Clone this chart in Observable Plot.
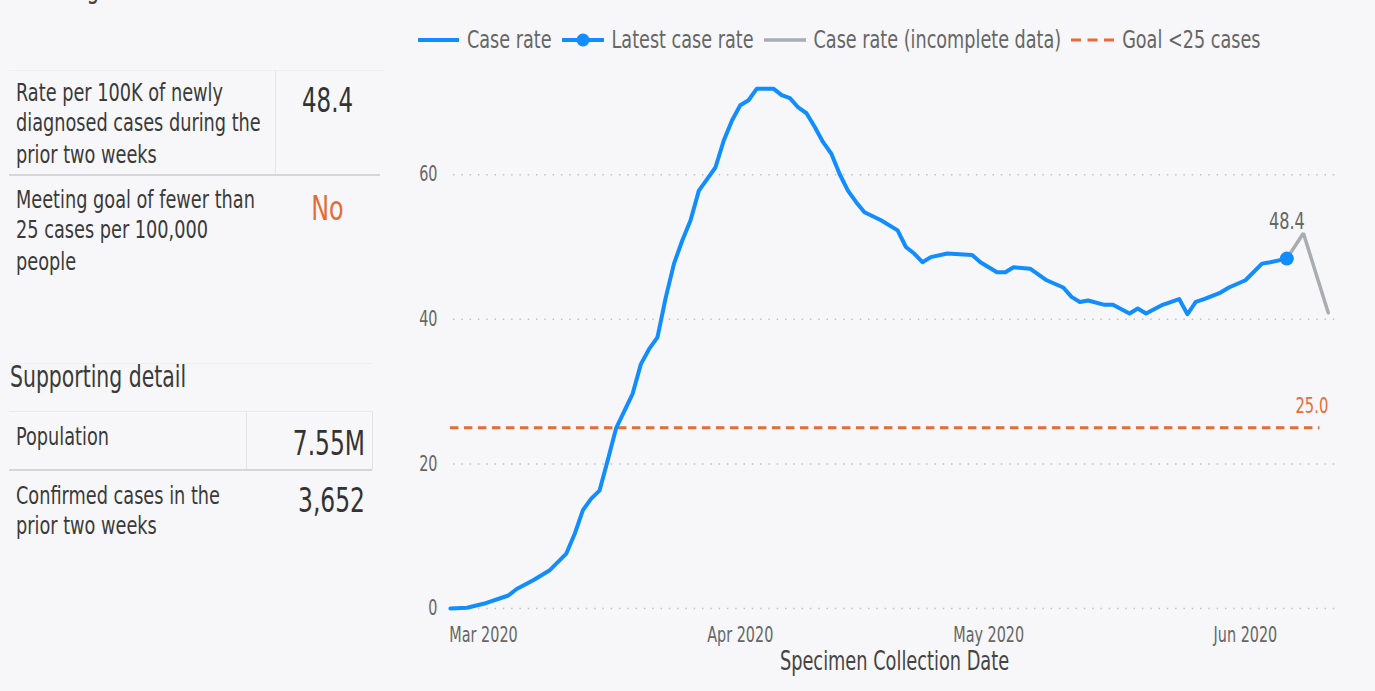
<!DOCTYPE html>
<html>
<head>
<meta charset="utf-8">
<script src="https://cdn.jsdelivr.net/npm/d3@7"></script>
<script src="https://cdn.jsdelivr.net/npm/@observablehq/plot@0.6"></script>
<style>
  html, body { margin: 0; padding: 0; background: #f7f7f9; overflow: hidden; }
  #root { position: relative; width: 1375px; height: 691px; background: #f7f7f9;
          font-family: "DejaVu Sans Condensed", "DejaVu Sans", sans-serif; }
  .abs { position: absolute; white-space: nowrap; transform: scaleY(1.3); transform-origin: 0 0; }
  .lbl { font-size: 19.7px; line-height: 23.46px; color: #3a3a3a; }
  .val { font-size: 26px; line-height: 30px; color: #333; }
  .line { position: absolute; }
  #legend { position: absolute; left: 418px; top: 28px; height: 24px; display: flex; align-items: center;
            font-size: 19.6px; line-height: 24px; color: #666; white-space: nowrap; }
  #legend svg { display: block; margin-right: 8px; }
  #legend span { display: inline-block; margin-right: 10px; transform: scaleY(1.3); transform-origin: 50% 50%; }
  #chart { position: absolute; left: 385px; top: 62px; }
</style>
</head>
<body>
<div id="root">
  <div class="abs" style="left:13px; top:-29px; font-size:22.7px; line-height:26px; color:#444;">Washington State</div>

  <div class="line" style="left:9px; top:70px; width:376px; height:1px; background:#efeff1;"></div>
  <div class="line" style="left:275px; top:70px; width:1px; height:105px; background:#e6e6e8;"></div>
  <div class="line" style="left:9px; top:174px; width:371px; height:2px; background:#d6d6d8;"></div>

  <div class="abs lbl" style="left:16px; top:78px;">Rate per 100K of newly<br>diagnosed cases during the<br>prior two weeks</div>
  <div class="abs val" style="left:275px; width:105px; text-align:center; top:80.5px; font-size:25.5px;">48.4</div>

  <div class="abs lbl" style="left:16px; top:185px;">Meeting goal of fewer than<br>25 cases per 100,000<br>people</div>
  <div class="abs val" style="left:275px; width:105px; text-align:center; top:188.5px; font-size:26.5px; color:#e66c37;">No</div>

  <div class="line" style="left:9px; top:363px; width:363px; height:1px; background:#efeff1;"></div>
  <div class="abs" style="left:10px; top:360px; font-size:22.7px; line-height:26px; color:#3a3a3a;">Supporting detail</div>

  <div class="line" style="left:9px; top:411px; width:363px; height:1px; background:#eaeaec;"></div>
  <div class="line" style="left:246px; top:411px; width:1px; height:59px; background:#e4e4e6;"></div>
  <div class="line" style="left:372px; top:411px; width:1px; height:59px; background:#e4e4e6;"></div>
  <div class="line" style="left:9px; top:469px; width:363px; height:2px; background:#d6d6d8;"></div>

  <div class="abs lbl" style="left:16px; top:422px;">Population</div>
  <div class="abs val" style="right:1010px; top:423.5px;">7.55M</div>

  <div class="abs lbl" style="left:16px; top:481px;">Confirmed cases in the<br>prior two weeks</div>
  <div class="abs val" style="right:1010px; top:480.5px;">3,652</div>

  <div id="legend">
    <svg width="41" height="24"><line x1="0" x2="41" y1="12" y2="12" stroke="#118dff" stroke-width="4"/></svg><span>Case rate</span>
    <svg width="42" height="24"><line x1="0" x2="42" y1="12" y2="12" stroke="#118dff" stroke-width="4"/><circle cx="21" cy="12" r="6.5" fill="#118dff"/></svg><span>Latest case rate</span>
    <svg width="42" height="24"><line x1="0" x2="42" y1="12" y2="12" stroke="#a9adb1" stroke-width="3.5"/></svg><span>Case rate (incomplete data)</span>
    <svg width="43" height="24"><line x1="0" x2="43" y1="12" y2="12" stroke="#e66c37" stroke-width="3" stroke-dasharray="10,6.5"/></svg><span>Goal &lt;25 cases</span>
  </div>

  <div id="chart"></div>
</div>
<script>
// ---- data ----
const caseDates = [
  "2020-02-26","2020-02-28","2020-03-01","2020-03-04","2020-03-05","2020-03-07","2020-03-09","2020-03-11",
  "2020-03-12","2020-03-13","2020-03-14","2020-03-15","2020-03-16","2020-03-17","2020-03-19","2020-03-20",
  "2020-03-21","2020-03-22","2020-03-23","2020-03-24","2020-03-25","2020-03-26","2020-03-27","2020-03-28",
  "2020-03-29","2020-03-30","2020-03-31","2020-04-01","2020-04-02","2020-04-03","2020-04-05","2020-04-06",
  "2020-04-07","2020-04-08","2020-04-09","2020-04-10","2020-04-11","2020-04-12","2020-04-13","2020-04-14",
  "2020-04-15","2020-04-16","2020-04-18","2020-04-20","2020-04-21","2020-04-22","2020-04-23","2020-04-24",
  "2020-04-26","2020-04-29","2020-04-30","2020-05-02","2020-05-03","2020-05-04","2020-05-06","2020-05-08",
  "2020-05-10","2020-05-11","2020-05-12","2020-05-13","2020-05-15","2020-05-16","2020-05-18","2020-05-19",
  "2020-05-20","2020-05-22","2020-05-24","2020-05-25","2020-05-26","2020-05-27","2020-05-29","2020-05-30",
  "2020-06-01","2020-06-03","2020-06-04","2020-06-06"
];
const caseRates = [
  0.0, 0.1, 0.65, 1.8, 2.7, 3.9, 5.3, 7.6,
  10.3, 13.6, 15.2, 16.3, 20.5, 24.9, 29.7, 33.8,
  35.9, 37.5, 43.0, 47.7, 50.9, 53.7, 57.8, 59.4,
  61.0, 64.7, 67.5, 69.6, 70.3, 71.9, 71.9, 71.0,
  70.6, 69.3, 68.5, 66.6, 64.5, 62.9, 60.1, 57.8,
  56.2, 54.8, 53.7, 52.3, 50.0, 49.1, 47.9, 48.6,
  49.1, 48.9, 47.9, 46.5, 46.5, 47.2, 47.0, 45.4,
  44.4, 43.1, 42.4, 42.6, 42.0, 42.0, 40.8, 41.5,
  40.8, 42.0, 42.8, 40.7, 42.4, 42.8, 43.7, 44.4,
  45.4, 47.7, 47.9, 48.4
];
const incompleteDates = ["2020-06-06", "2020-06-08", "2020-06-11"];
const incompleteRates = [48.4, 51.9, 40.9];
const latestDate = "2020-06-06";
const latestRate = 48.4;
const goalValue = 25;
const goalSpan = ["2020-02-26", "2020-06-10"];
const goalLabelDate = "2020-06-11";
const yTicks = [0, 20, 40, 60];
const monthTicks = ["2020-03-01", "2020-04-01", "2020-05-01", "2020-06-01"];
const xDomain = ["2020-02-26T09:00:00Z", "2020-06-11T21:00:00Z"];
const yDomain = [0, 74];
const xTitle = "Specimen Collection Date";

// ---- build tables ----
const parse = s => new Date(s.length === 10 ? s + "T00:00:00Z" : s);
const caseData = caseDates.map((d, i) => ({date: parse(d), v: caseRates[i]}));
const incData = incompleteDates.map((d, i) => ({date: parse(d), v: incompleteRates[i]}));
const latest = [{date: parse(latestDate), v: latestRate}];
const goal = [{v: goalValue, x1: parse(goalSpan[0]), x2: parse(goalSpan[1]), lx: parse(goalLabelDate)}];

const BLUE = "#118dff", GRAY = "#a9adb1", ORANGE = "#e66c37";
const FONT = '"DejaVu Sans Condensed", "DejaVu Sans", sans-serif';

const chart = Plot.plot({
  width: 990,
  height: 625,
  marginLeft: 68,
  marginRight: 40,
  marginTop: 11,
  marginBottom: 79,
  style: {background: "transparent", fontFamily: FONT, fontSize: "16px", color: "#666", overflow: "visible"},
  x: {type: "utc", domain: xDomain.map(parse)},
  y: {domain: yDomain},
  marks: [
    Plot.ruleY(yTicks, {stroke: "#c2c2c5", strokeWidth: 1.5, strokeDasharray: "1.5,6.8"}),
    Plot.axisY({ticks: yTicks, tickSize: 0, tickPadding: 16, label: null, fontSize: 16, fill: "#666"}),
    Plot.axisX({ticks: monthTicks.map(parse), tickFormat: d3.utcFormat("%b %Y"), tickSize: 0, tickPadding: 19, label: null, fontSize: 16, fill: "#666"}),
    Plot.ruleY(goal, {y: "v", x1: "x1", x2: "x2", stroke: ORANGE, strokeWidth: 3, strokeDasharray: "8.5,5.5"}),
    Plot.line(incData, {x: "date", y: "v", stroke: GRAY, strokeWidth: 3.5, strokeLinejoin: "miter"}),
    Plot.line(caseData, {x: "date", y: "v", stroke: BLUE, strokeWidth: 4, strokeLinejoin: "round", strokeLinecap: "round"}),
    Plot.dot(latest, {x: "date", y: "v", r: 7, fill: BLUE}),
    Plot.text(latest, {x: "date", y: "v", text: d => d.v.toFixed(1), dy: -37, fontSize: 17.9, fill: "#666"}),
    Plot.text(goal, {x: "lx", y: "v", text: d => d.v.toFixed(1), textAnchor: "end", dy: -22, fontSize: 16.4, fill: ORANGE}),
    Plot.text([xTitle], {frameAnchor: "bottom", lineAnchor: "middle", dy: 53, fontSize: 19.75, fill: "#444"})
  ]
});
// stretch glyphs vertically around their anchor, like the tall condensed face of the reference
chart.querySelectorAll("text").forEach(t => {
  const tr = t.getAttribute("transform") || "";
  t.setAttribute("transform", (tr + " scale(1,1.3)").trim());
});
document.getElementById("chart").appendChild(chart);
</script>
</body>
</html>
